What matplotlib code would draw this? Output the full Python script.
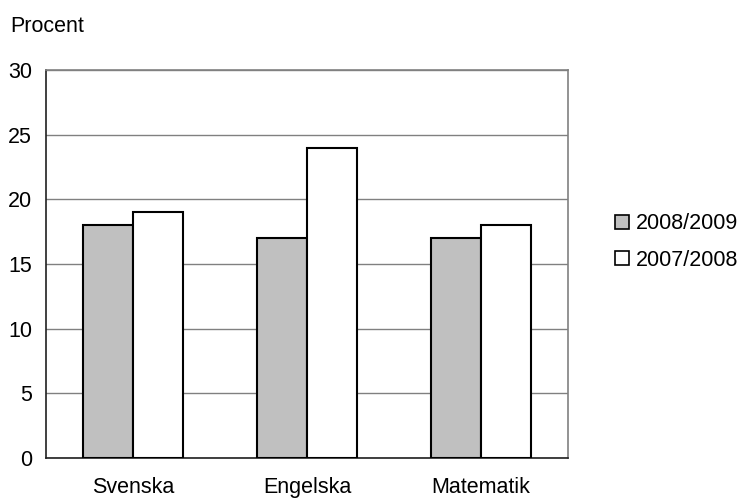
import matplotlib
matplotlib.use("Agg")
import matplotlib.pyplot as plt
import numpy as np
from matplotlib.patches import Patch

categories = ["Svenska", "Engelska", "Matematik"]
series_names = ["2008/2009", "2007/2008"]
values_2008_2009 = [18, 17, 17]
values_2007_2008 = [19, 24, 18]
colors = ["#c0c0c0", "#ffffff"]

plt.rcParams['font.family'] = ['Liberation Sans', 'DejaVu Sans']
FS = 15.5

fig = plt.figure(figsize=(7.38, 4.98), dpi=100)
ax = fig.add_axes([46/738, 40/498, (568-46)/738, (458-70)/498])

x = np.arange(len(categories))
w = 50/174
ax.bar(x - w/2, values_2008_2009, width=w, color=colors[0], edgecolor="black", linewidth=1.5, zorder=3)
ax.bar(x + w/2, values_2007_2008, width=w, color=colors[1], edgecolor="black", linewidth=1.5, zorder=3)

ax.set_xlim(-0.5, 2.5)
ax.set_ylim(0, 30)
ax.set_yticks(range(0, 31, 5))
ax.set_xticks(x)
ax.set_xticklabels(categories)
ax.tick_params(axis='both', length=0, labelsize=FS)
ax.tick_params(axis='y', pad=10)
ax.tick_params(axis='x', pad=14)
ax.yaxis.grid(True, color="#808080", linewidth=1.0, zorder=0)
for s in ["top", "right"]:
    ax.spines[s].set_color("#808080")
for s in ["left", "bottom"]:
    ax.spines[s].set_color("#202020")
for s in ax.spines.values():
    s.set_linewidth(1.2)

fig.text(10/738, 1 - 27/498, "Procent", fontsize=FS, ha="left", va="center")

handles = [Patch(facecolor=colors[0], edgecolor="black", linewidth=1.2),
           Patch(facecolor=colors[1], edgecolor="black", linewidth=1.2)]
fig.legend(handles, series_names, loc="center left", bbox_to_anchor=(611/738, 1 - 242/498),
           frameon=False, fontsize=FS, handlelength=0.62, handleheight=0.62,
           handletextpad=0.35, labelspacing=0.72, borderpad=0.2, borderaxespad=0)

fig.savefig("out.png", dpi=100)
